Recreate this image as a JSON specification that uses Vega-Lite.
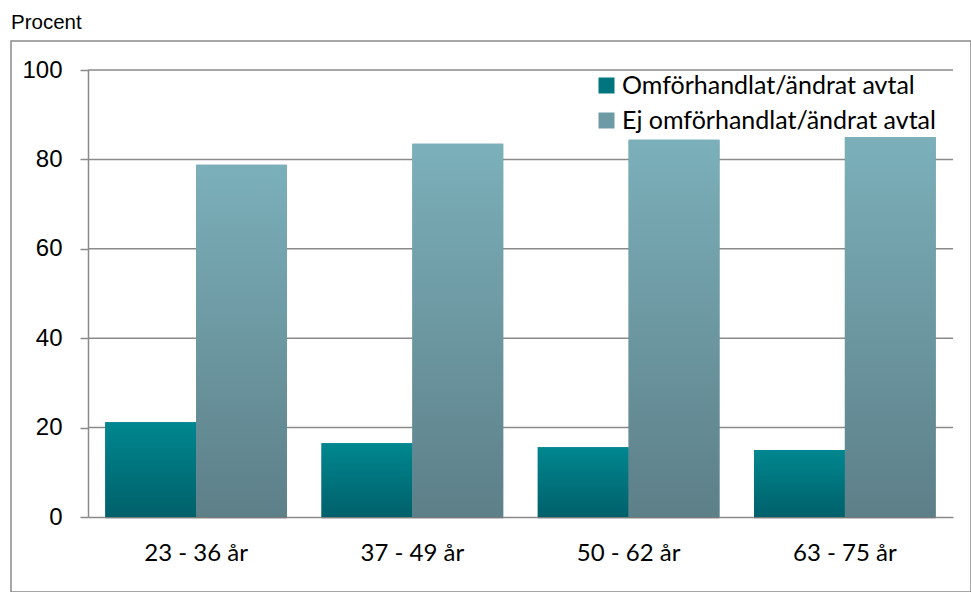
{
  "$schema": "https://vega.github.io/schema/vega-lite/v6.json",
  "width": 960,
  "height": 551,
  "autosize": {"type": "none"},
  "padding": {"left": 11, "top": 41, "right": 0, "bottom": 0},
  "title": {"text": "Procent", "anchor": "start", "frame": "group", "font": "Liberation Sans", "fontSize": 20.5, "fontWeight": "normal", "color": "#000000", "baseline": "alphabetic", "offset": -8},
  "config": {
    "view": {"stroke": "#8a8a8a", "strokeWidth": 1.5},
    "axis": {"grid": false}
  },
  "data": {"values": [
    {"age": "23 - 36 år", "series": "Omförhandlat/ändrat avtal", "value": 21.2},
    {"age": "23 - 36 år", "series": "Ej omförhandlat/ändrat avtal", "value": 78.8},
    {"age": "37 - 49 år", "series": "Omförhandlat/ändrat avtal", "value": 16.5},
    {"age": "37 - 49 år", "series": "Ej omförhandlat/ändrat avtal", "value": 83.5},
    {"age": "50 - 62 år", "series": "Omförhandlat/ändrat avtal", "value": 15.6},
    {"age": "50 - 62 år", "series": "Ej omförhandlat/ändrat avtal", "value": 84.4},
    {"age": "63 - 75 år", "series": "Omförhandlat/ändrat avtal", "value": 15.0},
    {"age": "63 - 75 år", "series": "Ej omförhandlat/ändrat avtal", "value": 85.0}
  ]},
  "layer": [
    {
      "data": {"values": [{"g": 20}, {"g": 40}, {"g": 60}, {"g": 80}, {"g": 100}]},
      "mark": {"type": "rule", "color": "#8a8a8a", "strokeWidth": 1.5},
      "encoding": {
        "y": {"field": "g", "type": "quantitative",
              "scale": {"domain": [0, 100], "range": [476, 29]},
              "axis": {"title": null, "values": [0, 20, 40, 60, 80, 100], "offset": -77, "grid": false,
                       "domainColor": "#8a8a8a", "domainWidth": 1.5, "tickColor": "#8a8a8a", "tickWidth": 1.5, "tickSize": 8,
                       "labelPadding": 18, "labelFont": "Liberation Sans", "labelFontSize": 24, "labelColor": "#000000"}},
        "x": {"datum": 0, "type": "quantitative", "scale": {"domain": [0, 1], "range": [77, 942]}, "axis": null},
        "x2": {"datum": 1}
      }
    },
    {
      "layer": [
        {
          "mark": {"type": "bar", "fill": "#000000", "fillOpacity": 0.12, "xOffset": 3, "yOffset": 2},
          "encoding": {
            "x": {"field": "age", "type": "nominal", "sort": null,
                  "scale": {"range": [77, 942], "paddingInner": 0.16, "paddingOuter": 0.08},
                  "axis": {"title": null, "offset": -75, "labelAngle": 0, "ticks": false, "tickSize": 0,
                           "domainColor": "#8a8a8a", "domainWidth": 1.5,
                           "labelFont": "Lato", "labelFontSize": 24, "labelColor": "#000000",
                           "labelBaseline": "alphabetic", "labelPadding": 43}},
            "xOffset": {"field": "series", "type": "nominal",
                        "scale": {"domain": ["Omförhandlat/ändrat avtal", "Ej omförhandlat/ändrat avtal"], "paddingInner": 0}},
            "y": {"field": "value", "type": "quantitative",
                  "scale": {"domain": [0, 100], "range": [476, 29]},
                  "axis": {"title": null, "values": [0, 20, 40, 60, 80, 100], "offset": -77, "grid": false,
                           "domainColor": "#8a8a8a", "domainWidth": 1.5, "tickColor": "#8a8a8a", "tickWidth": 1.5, "tickSize": 8,
                           "labelPadding": 18, "labelFont": "Liberation Sans", "labelFontSize": 24, "labelColor": "#000000"}}
          }
        },
        {
          "mark": {"type": "bar"},
          "encoding": {
            "x": {"field": "age", "type": "nominal", "sort": null},
            "xOffset": {"field": "series", "type": "nominal"},
            "y": {"field": "value", "type": "quantitative"},
            "color": {"field": "series", "type": "nominal",
                      "scale": {"domain": ["Omförhandlat/ändrat avtal", "Ej omförhandlat/ändrat avtal"], "range": ["#00757e", "#6d9aa4"]},
                      "legend": {"orient": "none", "legendX": 583, "legendY": 32, "title": null,
                                 "symbolType": "square", "symbolSize": 256, "symbolStrokeWidth": 0,
                                 "labelFont": "Lato", "labelFontSize": 25, "labelColor": "#000000", "labelLimit": 500,
                                 "rowPadding": 9, "labelOffset": 3}}
          }
        },
        {
          "mark": {"type": "bar"},
          "encoding": {
            "x": {"field": "age", "type": "nominal", "sort": null},
            "xOffset": {"field": "series", "type": "nominal"},
            "y": {"field": "value", "type": "quantitative"},
            "color": {
              "condition": {"test": "datum.series === 'Omförhandlat/ändrat avtal'",
                            "value": {"gradient": "linear", "x1": 0, "y1": 0, "x2": 0, "y2": 1,
                                      "stops": [{"offset": 0, "color": "#00878f"}, {"offset": 1, "color": "#00606a"}]}},
              "value": {"gradient": "linear", "x1": 0, "y1": 0, "x2": 0, "y2": 1,
                        "stops": [{"offset": 0, "color": "#7bb0ba"}, {"offset": 1, "color": "#5d7f88"}]}
            }
          }
        }
      ]
    }
  ],
  "resolve": {"scale": {"x": "independent"}}
}
